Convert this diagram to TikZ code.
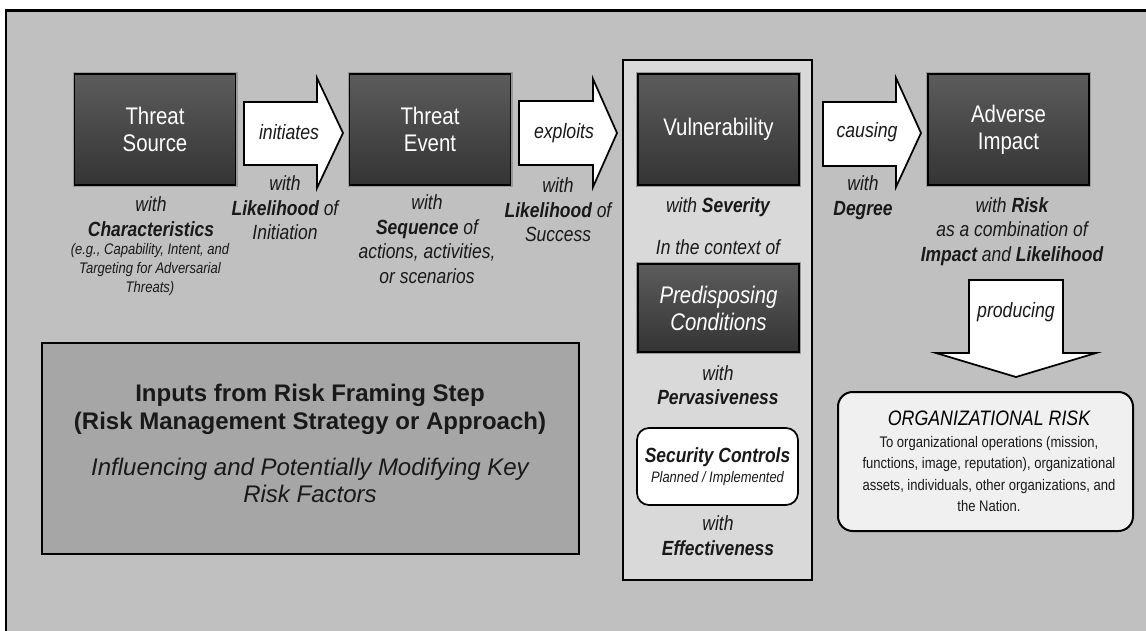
\documentclass[tikz,border=0pt]{standalone}
\usepackage{fontspec}
\setmainfont{Liberation Sans}
\newfontfamily\nf{Liberation Sans}[FakeStretch=0.85]
\definecolor{bgc}{RGB}{192,192,192}
\definecolor{contc}{RGB}{217,217,217}
\definecolor{inpc}{RGB}{166,166,166}
\definecolor{orgc}{RGB}{240,240,240}
\definecolor{txtc}{RGB}{25,25,25}
\definecolor{dkA}{RGB}{92,92,92}
\definecolor{dkB}{RGB}{52,52,52}
\newcommand\fTitle{\nf\fontsize{18}{20.25}\selectfont}
\newcommand\fDesc{\nf\fontsize{15.4}{18.4}\selectfont\itshape}
\newcommand\fArrow{\nf\fontsize{15.6}{18}\selectfont\itshape}
\newcommand\fSmall{\nf\fontsize{11.5}{13.9}\selectfont\itshape}
\newcommand\fBody{\nf\fontsize{11.5}{16}\selectfont}
\begin{document}
\begin{tikzpicture}[x=0.75pt,y=-0.75pt,
  darkbox/.style={draw=black, line width=1.2pt, top color=dkA, bottom color=dkB,
    preaction={draw=black!40, line width=3pt}, text=white, font=\fTitle,
    align=center, inner sep=0pt, minimum width={161*0.75pt}},
  barrow/.style={draw=black, fill=white, line width=1.3pt, line join=miter},
  lbl/.style={font=\fArrow, text=txtc, inner sep=0pt},
  desc/.style={font=\fDesc, text=txtc, align=center, inner sep=0pt},
]
\useasboundingbox (0,0) rectangle (1146,631);
\draw[line width=1.9pt, fill=bgc] (6,10.7) rectangle (1175,665);

% containers
\node[draw=black, line width=1.5pt, fill=contc, minimum width={189*0.75pt},
  minimum height={520*0.75pt}, inner sep=0pt] (cont) at (717.5,320) {};
\node[draw=black, line width=1.5pt, fill=inpc, minimum width={537*0.75pt},
  minimum height={211*0.75pt}, inner sep=0pt] (inp) at (310.5,448.5) {};
\node[font=\fontsize{18}{21}\selectfont\bfseries, text=txtc, align=center, inner sep=0pt]
  (inpA) at (310,409) {Inputs from Risk Framing Step\\(Risk Management Strategy or Approach)};
\node[font=\fontsize{18}{20.25}\selectfont\itshape, text=txtc, align=center, inner sep=0pt]
  (inpB) at (310,480.5) {Influencing and Potentially Modifying Key\\Risk Factors};

% dark boxes
\node[darkbox, minimum height={111*0.75pt}] (ts) at (155,129.5) {Threat\\Source};
\node[darkbox, minimum height={111*0.75pt}] (te) at (430,129.5) {Threat\\Event};
\node[darkbox, minimum height={111*0.75pt}] (vu) at (718.5,129.5) {Vulnerability};
\node[darkbox, minimum height={111*0.75pt}] (ai) at (1008.5,129.5) {Adverse\\Impact};
\node[darkbox, minimum height={88*0.75pt}, font=\fTitle\itshape] (pc) at (718.5,308) {Predisposing\\Conditions};

% block arrows
\draw[barrow] (244,102) -- (317,102) -- (317,78) -- (343,133) -- (317,188) -- (317,165) -- (244,165) -- cycle;
\node[lbl] (l1) at (289,132) {initiates};
\draw[barrow] (519,101) -- (593,101) -- (593,79) -- (617,133) -- (593,187) -- (593,165) -- (519,165) -- cycle;
\node[lbl] (l2) at (564,133) {exploits};
\draw[barrow] (823,102) -- (896,102) -- (896,78) -- (921,133) -- (896,187) -- (896,166) -- (823,166) -- cycle;
\node[lbl] (l3) at (867,132) {causing};
\draw[barrow] (969,280) -- (1063,280) -- (1063,353) -- (1096,353) -- (1016,377) -- (936,353) -- (969,353) -- cycle;
\node[lbl] (l4) at (1016,312) {producing};

% descriptions
\node[desc] (d1) at (151,216.5) {with\\\textbf{Characteristics}};
\node[desc, font=\fSmall] (d1s) at (150,269.5) {(e.g., Capability, Intent, and\\Targeting for Adversarial\\Threats)};
\node[desc] (d2) at (285,208) {with\\\textbf{Likelihood} of\\Initiation};
\node[desc] (d3) at (427,239) {with\\\textbf{Sequence} of\\actions, activities,\\or scenarios};
\node[desc] (d4) at (558,210) {with\\\textbf{Likelihood} of\\Success};
\node[desc] (d5) at (718,207) {with \textbf{Severity}};
\node[desc] (d6) at (718,247) {In the context of};
\node[desc] (d7) at (718,385) {with\\\textbf{Pervasiveness}};
\node[draw=black, line width=1.3pt, fill=white, rounded corners=9pt,
  minimum width={161*0.75pt}, minimum height={77*0.75pt}, align=center, inner sep=0pt,
  text=txtc, font=\nf\fontsize{11.4}{15.5}\selectfont\itshape]
  (sc) at (717.5,466.5) {{\fontsize{15.4}{15.5}\selectfont\bfseries Security Controls}\\Planned / Implemented};
\node[desc] (d8) at (718,535.5) {with\\\textbf{Effectiveness}};
\node[desc] (d9) at (863,197.5) {with\\\textbf{Degree}};
\node[desc] (d10) at (1012,231.5) {with \textbf{Risk}\\as a combination of\\\textbf{Impact} and \textbf{Likelihood}};

% organizational risk
\node[draw=black, line width=1.5pt, fill=orgc, rounded corners=11pt,
  minimum width={295*0.75pt}, minimum height={139*0.75pt}, inner sep=0pt] (org) at (985.5,461.5) {};
\node[font=\nf\fontsize{15.7}{18}\selectfont\itshape, text=black, inner sep=0pt] (orgT) at (989,418) {ORGANIZATIONAL RISK};
\node[font=\fBody, text=txtc, align=center, inner sep=0pt] (orgB) at (989,474)
  {To organizational operations (mission,\\functions, image, reputation), organizational\\assets, individuals, other organizations, and\\the Nation.};
\end{tikzpicture}
\end{document}
